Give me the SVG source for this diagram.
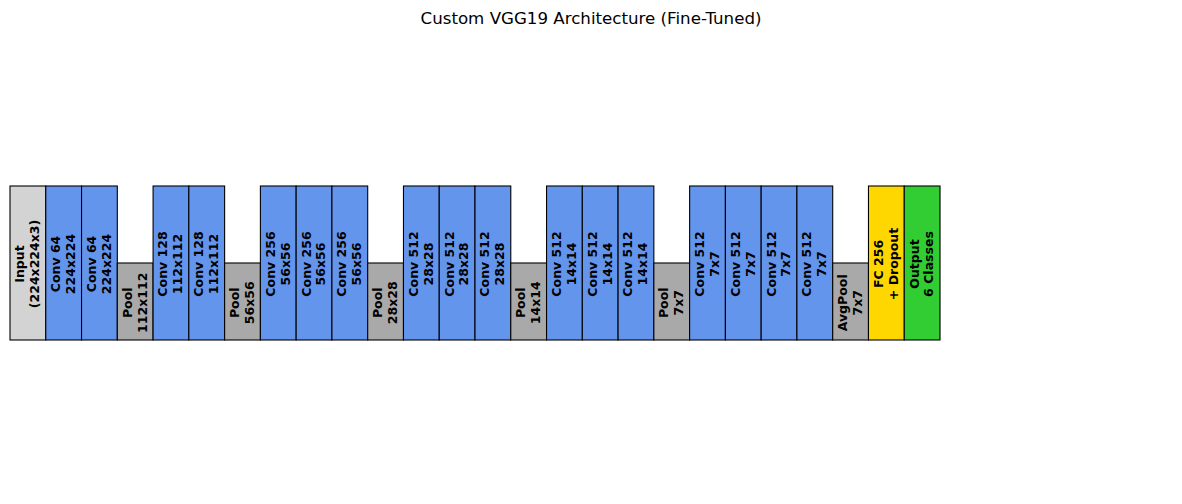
<svg xmlns="http://www.w3.org/2000/svg" width="1182" height="504" viewBox="0 0 1182 504">
<style>
.b{stroke:#000;stroke-width:1.1}
.in{fill:#d3d3d3}.cv{fill:#6495ed}.pl{fill:#a9a9a9}.fc{fill:#ffd700}.out{fill:#32cd32}
.t{font-family:"DejaVu Sans",sans-serif;font-weight:bold;font-size:12.5px;text-anchor:middle;fill:#000}
.title{font-family:"DejaVu Sans",sans-serif;font-size:16.67px;text-anchor:middle;fill:#000}
</style>
<rect width="1182" height="504" fill="#fff"/>
<text class="title" x="591" y="24">Custom VGG19 Architecture (Fine-Tuned)</text>
<g id="n0"><rect class="b in" x="10" y="186" width="35.77" height="154"/><text class="t" transform="translate(27.89,264) rotate(-90)"><tspan x="0" y="-3.5">Input</tspan><tspan x="0" y="11.3">(224x224x3)</tspan></text></g>
<g id="n1"><rect class="b cv" x="45.77" y="186" width="35.77" height="154"/><text class="t" transform="translate(63.66,264) rotate(-90)"><tspan x="0" y="-3.5">Conv 64</tspan><tspan x="0" y="11.3">224x224</tspan></text></g>
<g id="n2"><rect class="b cv" x="81.54" y="186" width="35.77" height="154"/><text class="t" transform="translate(99.43,264) rotate(-90)"><tspan x="0" y="-3.5">Conv 64</tspan><tspan x="0" y="11.3">224x224</tspan></text></g>
<g id="n3"><rect class="b pl" x="117.31" y="263" width="35.77" height="77"/><text class="t" transform="translate(135.2,302.8) rotate(-90)"><tspan x="0" y="-3.5">Pool</tspan><tspan x="0" y="11.3">112x112</tspan></text></g>
<g id="n4"><rect class="b cv" x="153.08" y="186" width="35.77" height="154"/><text class="t" transform="translate(170.97,264) rotate(-90)"><tspan x="0" y="-3.5">Conv 128</tspan><tspan x="0" y="11.3">112x112</tspan></text></g>
<g id="n5"><rect class="b cv" x="188.85" y="186" width="35.77" height="154"/><text class="t" transform="translate(206.74,264) rotate(-90)"><tspan x="0" y="-3.5">Conv 128</tspan><tspan x="0" y="11.3">112x112</tspan></text></g>
<g id="n6"><rect class="b pl" x="224.62" y="263" width="35.77" height="77"/><text class="t" transform="translate(242.51,302.8) rotate(-90)"><tspan x="0" y="-3.5">Pool</tspan><tspan x="0" y="11.3">56x56</tspan></text></g>
<g id="n7"><rect class="b cv" x="260.39" y="186" width="35.77" height="154"/><text class="t" transform="translate(278.28,264) rotate(-90)"><tspan x="0" y="-3.5">Conv 256</tspan><tspan x="0" y="11.3">56x56</tspan></text></g>
<g id="n8"><rect class="b cv" x="296.16" y="186" width="35.77" height="154"/><text class="t" transform="translate(314.05,264) rotate(-90)"><tspan x="0" y="-3.5">Conv 256</tspan><tspan x="0" y="11.3">56x56</tspan></text></g>
<g id="n9"><rect class="b cv" x="331.93" y="186" width="35.77" height="154"/><text class="t" transform="translate(349.82,264) rotate(-90)"><tspan x="0" y="-3.5">Conv 256</tspan><tspan x="0" y="11.3">56x56</tspan></text></g>
<g id="n10"><rect class="b pl" x="367.7" y="263" width="35.77" height="77"/><text class="t" transform="translate(385.59,302.8) rotate(-90)"><tspan x="0" y="-3.5">Pool</tspan><tspan x="0" y="11.3">28x28</tspan></text></g>
<g id="n11"><rect class="b cv" x="403.47" y="186" width="35.77" height="154"/><text class="t" transform="translate(421.36,264) rotate(-90)"><tspan x="0" y="-3.5">Conv 512</tspan><tspan x="0" y="11.3">28x28</tspan></text></g>
<g id="n12"><rect class="b cv" x="439.24" y="186" width="35.77" height="154"/><text class="t" transform="translate(457.13,264) rotate(-90)"><tspan x="0" y="-3.5">Conv 512</tspan><tspan x="0" y="11.3">28x28</tspan></text></g>
<g id="n13"><rect class="b cv" x="475.01" y="186" width="35.77" height="154"/><text class="t" transform="translate(492.9,264) rotate(-90)"><tspan x="0" y="-3.5">Conv 512</tspan><tspan x="0" y="11.3">28x28</tspan></text></g>
<g id="n14"><rect class="b pl" x="510.78" y="263" width="35.77" height="77"/><text class="t" transform="translate(528.67,302.8) rotate(-90)"><tspan x="0" y="-3.5">Pool</tspan><tspan x="0" y="11.3">14x14</tspan></text></g>
<g id="n15"><rect class="b cv" x="546.55" y="186" width="35.77" height="154"/><text class="t" transform="translate(564.44,264) rotate(-90)"><tspan x="0" y="-3.5">Conv 512</tspan><tspan x="0" y="11.3">14x14</tspan></text></g>
<g id="n16"><rect class="b cv" x="582.32" y="186" width="35.77" height="154"/><text class="t" transform="translate(600.21,264) rotate(-90)"><tspan x="0" y="-3.5">Conv 512</tspan><tspan x="0" y="11.3">14x14</tspan></text></g>
<g id="n17"><rect class="b cv" x="618.09" y="186" width="35.77" height="154"/><text class="t" transform="translate(635.98,264) rotate(-90)"><tspan x="0" y="-3.5">Conv 512</tspan><tspan x="0" y="11.3">14x14</tspan></text></g>
<g id="n18"><rect class="b pl" x="653.86" y="263" width="35.77" height="77"/><text class="t" transform="translate(671.75,302.8) rotate(-90)"><tspan x="0" y="-3.5">Pool</tspan><tspan x="0" y="11.3">7x7</tspan></text></g>
<g id="n19"><rect class="b cv" x="689.63" y="186" width="35.77" height="154"/><text class="t" transform="translate(707.52,264) rotate(-90)"><tspan x="0" y="-3.5">Conv 512</tspan><tspan x="0" y="11.3">7x7</tspan></text></g>
<g id="n20"><rect class="b cv" x="725.4" y="186" width="35.77" height="154"/><text class="t" transform="translate(743.29,264) rotate(-90)"><tspan x="0" y="-3.5">Conv 512</tspan><tspan x="0" y="11.3">7x7</tspan></text></g>
<g id="n21"><rect class="b cv" x="761.17" y="186" width="35.77" height="154"/><text class="t" transform="translate(779.06,264) rotate(-90)"><tspan x="0" y="-3.5">Conv 512</tspan><tspan x="0" y="11.3">7x7</tspan></text></g>
<g id="n22"><rect class="b cv" x="796.94" y="186" width="35.77" height="154"/><text class="t" transform="translate(814.83,264) rotate(-90)"><tspan x="0" y="-3.5">Conv 512</tspan><tspan x="0" y="11.3">7x7</tspan></text></g>
<g id="n23"><rect class="b pl" x="832.71" y="263" width="35.77" height="77"/><text class="t" transform="translate(850.6,302.8) rotate(-90)"><tspan x="0" y="-3.5">AvgPool</tspan><tspan x="0" y="11.3">7x7</tspan></text></g>
<g id="n24"><rect class="b fc" x="868.48" y="186" width="35.77" height="154"/><text class="t" transform="translate(886.37,264) rotate(-90)"><tspan x="0" y="-3.5">FC 256</tspan><tspan x="0" y="11.3">+ Dropout</tspan></text></g>
<g id="n25"><rect class="b out" x="904.25" y="186" width="35.77" height="154"/><text class="t" transform="translate(922.14,264) rotate(-90)"><tspan x="0" y="-3.5">Output</tspan><tspan x="0" y="11.3">6 Classes</tspan></text></g>
<g id="connectors"></g>
</svg>
